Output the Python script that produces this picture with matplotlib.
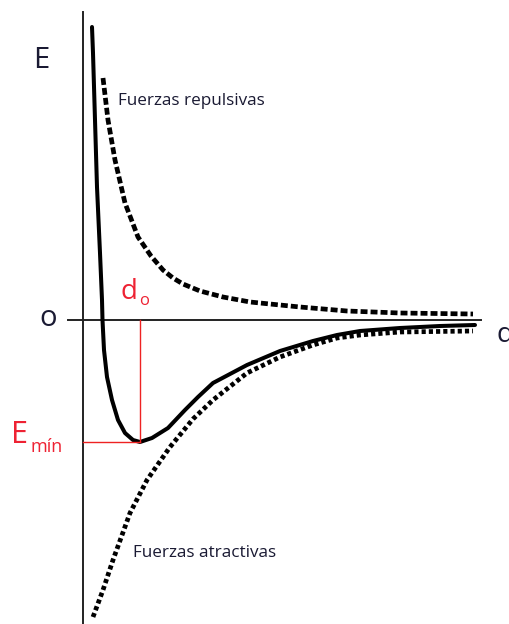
import matplotlib
matplotlib.use('Agg')
import matplotlib.pyplot as plt

plt.rcParams['lines.scale_dashes'] = False
plt.rcParams['font.family'] = ['Open Sans', 'DejaVu Sans']

# distance (r) and energy (E), arbitrary units
total_r = [9, 10, 12, 14, 17, 19, 19.5, 21, 24, 29, 35, 42, 50, 57, 69, 85, 102, 115, 130,
           164, 197, 230, 254, 277, 317, 357, 392]
total_E = [293, 267, 200, 133, 67, 20, 0, -30, -57, -80, -100, -113, -120, -122, -118, -108,
           -90, -77, -63, -45, -31, -21, -15, -11, -8, -6, -5]

rep_r = [20, 25, 32, 42, 55, 68, 80, 90, 100, 117, 140, 167, 217, 264, 317, 390]
rep_E = [242, 200, 160, 117, 83, 64, 50, 42, 36, 29, 23, 18, 13, 9, 7, 6]

att_r = [10, 20, 30, 47, 64, 87, 110, 130, 164, 197, 230, 254, 277, 317, 390]
att_E = [-297, -270, -240, -193, -160, -127, -99, -80, -53, -37, -25, -18, -15, -12, -11]

d0 = 57
E_min = -122

fig = plt.figure(figsize=(5.09, 6.24), dpi=100)
ax = fig.add_axes([0, 0, 1, 1])
ax.set_xlim(-83, 426)
ax.set_ylim(-304, 320)
ax.axis('off')

# axes
ax.plot([0, 0], [-304, 308], color='#222222', lw=1.4)
ax.plot([-15, 398], [0, 0], color='#222222', lw=1.4)

# curves
ax.plot(total_r, total_E, color='black', lw=2.9, solid_capstyle='round', solid_joinstyle='round')
ax.plot(rep_r, rep_E, color='black', lw=3.4, dashes=(5, 2.2))
ax.plot(att_r, att_E, color='black', lw=3.4, dashes=(3, 2.2))

# minimum marks
ax.plot([d0, d0], [0, E_min], color='#ee2222', lw=1.0)
ax.plot([0, d0], [E_min, E_min], color='#ee2222', lw=1.0)

txt = '#1a1a33'
ax.text(-42, 259, 'E', fontsize=21, color=txt, ha='center', va='center')
ax.text(-35, 1, 'o', fontsize=21, color=txt, ha='center', va='center')
ax.text(414, -15, 'd', fontsize=20, color=txt, ha='left', va='center')
ax.text(35, 219, 'Fuerzas repulsivas', fontsize=12.3, color=txt, ha='left', va='center')
ax.text(50, -233, 'Fuerzas atractivas', fontsize=12.3, color=txt, ha='left', va='center')

red = '#ee2233'
ax.text(38, 28, 'd', fontsize=20, color=red, ha='left', va='center')
ax.text(56, 19, 'o', fontsize=12, color=red, ha='left', va='center')
ax.text(-72, -115, 'E', fontsize=22, color=red, ha='left', va='center')
ax.text(-52, -127, 'mín', fontsize=13, color=red, ha='left', va='center')

fig.savefig('out.png', dpi=100)
